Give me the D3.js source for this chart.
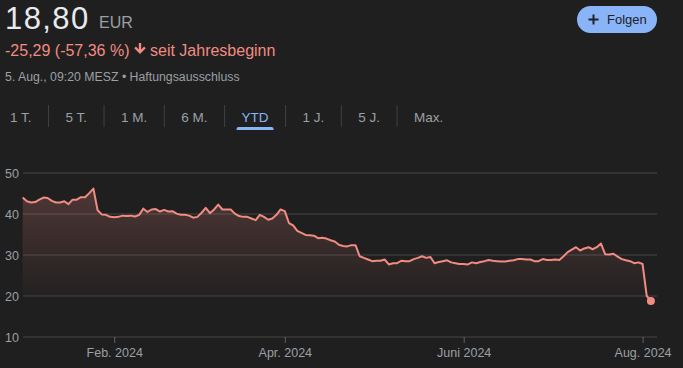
<!DOCTYPE html>
<html>
<head>
<meta charset="utf-8">
<script src="https://cdn.jsdelivr.net/npm/d3@7"></script>
<style>
  body { margin: 0; background: #1f1f1f; }
  svg { display: block; font-family: Arial, "Liberation Sans", sans-serif; }
</style>
</head>
<body>
<div id="chart"></div>
<script>
// daily closes since Jan 2 (one value per trading day)
const prices = [
  44.0, 43.1, 42.8, 42.9, 43.5, 44.0, 43.9, 43.2, 42.8, 42.8,
  43.1, 42.4, 43.5, 43.5, 44.1, 44.1, 45.1, 46.2, 40.9, 39.9,
  39.8, 39.3, 39.2, 39.3, 39.6, 39.5, 39.6, 39.4, 39.8, 41.3,
  40.5, 41.1, 41.2, 40.6, 41.0, 40.6, 40.7, 40.1, 39.8, 39.8,
  39.6, 39.1, 39.3, 40.3, 41.5, 40.2, 41.1, 42.3, 41.1, 41.1,
  41.1, 40.1, 39.5, 39.3, 39.3, 38.9, 38.5, 39.8, 39.3, 38.6,
  38.9, 39.8, 41.1, 40.7, 37.8, 37.2, 35.9, 35.4, 34.9, 34.8,
  34.7, 34.1, 34.2, 34.0, 33.6, 33.3, 32.5, 32.2, 32.1, 32.4,
  32.4, 29.7, 29.3, 28.9, 28.5, 28.6, 28.6, 28.9, 27.7, 28.0,
  28.0, 28.6, 28.5, 28.5, 29.0, 29.3, 29.7, 29.3, 29.5, 28.0,
  28.3, 28.5, 28.7, 28.2, 28.0, 27.8, 27.8, 27.7, 28.2, 28.0,
  28.3, 28.5, 28.8, 28.6, 28.5, 28.4, 28.4, 28.6, 28.7, 29.0,
  29.0, 28.9, 28.9, 28.5, 28.5, 29.0, 28.8, 28.8, 28.9, 28.8,
  29.7, 30.7, 31.3, 31.9, 31.1, 31.6, 31.9, 31.4, 31.9, 32.8,
  30.2, 30.1, 30.3, 29.6, 29.0, 28.7, 28.5, 28.0, 28.2, 27.8,
  20.0, 18.8
];

// x ticks: index of the first trading day of the month
const monthTicks = [22, 63, 106, 149];
const monthLabels = ['Feb. 2024', 'Apr. 2024', 'Juni 2024', 'Aug. 2024'];
const yTicks = [10, 20, 30, 40, 50];

const tabs = ['1 T.', '5 T.', '1 M.', '6 M.', 'YTD', '1 J.', '5 J.', 'Max.'];
const activeTab = 'YTD';

const width = 683;
const height = 368;

const svg = d3.select('#chart')
  .append('svg')
  .attr('width', width)
  .attr('height', height);

// header
svg.append('text')
  .attr('x', 5).attr('y', 28.5)
  .attr('font-size', 31)
  .attr('letter-spacing', 1.4)
  .attr('fill', '#e8eaed')
  .text('18,80');

svg.append('text')
  .attr('x', 99).attr('y', 28)
  .attr('font-size', 16)
  .attr('fill', '#9aa0a6')
  .text('EUR');

svg.append('text')
  .attr('x', 5).attr('y', 56)
  .attr('font-size', 16)
  .attr('fill', '#f28b82')
  .text('-25,29 (-57,36 %)');

// down arrow
svg.append('path')
  .attr('d', 'M138.8,43 h2.4 v6.5 l2.9,-2.9 l1.6,1.6 l-5.7,5.7 l-5.7,-5.7 l1.6,-1.6 l2.9,2.9 z')
  .attr('fill', '#f28b82');

svg.append('text')
  .attr('x', 150).attr('y', 56)
  .attr('font-size', 16)
  .attr('fill', '#f28b82')
  .text('seit Jahresbeginn');

svg.append('text')
  .attr('x', 5).attr('y', 81)
  .attr('font-size', 12.3)
  .attr('fill', '#9aa0a6')
  .text('5. Aug., 09:20 MESZ • Haftungsausschluss');

// follow button
const btn = svg.append('g');
btn.append('rect')
  .attr('x', 577).attr('y', 6)
  .attr('width', 80).attr('height', 27)
  .attr('rx', 13.5)
  .attr('fill', '#8ab4f8');
btn.append('path')
  .attr('d', 'M593.5,14.5 v10 M588.5,19.5 h10')
  .attr('stroke', '#202124')
  .attr('stroke-width', 2);
btn.append('text')
  .attr('x', 607).attr('y', 24)
  .attr('font-size', 13)
  .attr('fill', '#202124')
  .text('Folgen');

// range tabs
const tabGroup = svg.append('g');
let cursor = 10;
tabs.forEach((t, i) => {
  const active = t === activeTab;
  const label = tabGroup.append('text')
    .attr('x', cursor).attr('y', 122)
    .attr('font-size', 13.5)
    .attr('fill', active ? '#8ab4f8' : '#9aa0a6')
    .text(t);
  const w = label.node().getComputedTextLength();
  if (active) {
    tabGroup.append('path')
      .attr('d', `M${cursor - 5},130 v-1 a2,2 0 0 1 2,-2 h${w + 6} a2,2 0 0 1 2,2 v1 z`)
      .attr('fill', '#8ab4f8');
  }
  if (i < tabs.length - 1) {
    const sepX = cursor + w + 17;
    tabGroup.append('line')
      .attr('x1', sepX).attr('x2', sepX)
      .attr('y1', 105).attr('y2', 127)
      .attr('stroke', '#3c4043');
    cursor = sepX + 17;
  }
});

// chart
const plotLeft = 23;
const plotRight = 657;

const x = d3.scaleLinear()
  .domain([0, prices.length - 1])
  .range([22.7, 650.9]);

const y = d3.scaleLinear()
  .domain([10, 50])
  .range([337, 173]);

const grid = svg.append('g');
grid.selectAll('line')
  .data(yTicks)
  .enter()
  .append('line')
  .attr('x1', plotLeft).attr('x2', plotRight)
  .attr('y1', d => y(d)).attr('y2', d => y(d))
  .attr('stroke', '#3a3a3a')
  .attr('stroke-width', 1.5);

grid.selectAll('text')
  .data(yTicks)
  .enter()
  .append('text')
  .attr('x', 19)
  .attr('y', d => y(d) + 4.5)
  .attr('text-anchor', 'end')
  .attr('font-size', 12.5)
  .attr('fill', '#9aa0a6')
  .text(d => d);

// x axis ticks
const xAxis = d3.axisBottom(x)
  .tickValues(monthTicks)
  .tickSize(6)
  .tickPadding(5)
  .tickFormat((d, i) => monthLabels[i]);

const axisGroup = svg.append('g')
  .attr('transform', `translate(0, ${y(10)})`)
  .call(xAxis);
axisGroup.select('.domain').remove();
axisGroup.selectAll('line').attr('stroke', '#5f6368');
axisGroup.selectAll('text')
  .attr('font-size', 12.5)
  .attr('font-family', 'Arial, "Liberation Sans", sans-serif')
  .attr('fill', '#9aa0a6');

// area gradient
const defs = svg.append('defs');
const grad = defs.append('linearGradient')
  .attr('id', 'fade')
  .attr('gradientUnits', 'userSpaceOnUse')
  .attr('x1', 0).attr('x2', 0)
  .attr('y1', y(46)).attr('y2', y(20));
grad.append('stop').attr('offset', 0).attr('stop-color', '#f28b82').attr('stop-opacity', 0.22);
grad.append('stop').attr('offset', 1).attr('stop-color', '#f28b82').attr('stop-opacity', 0.02);

const area = d3.area()
  .x((d, i) => x(i))
  .y0(y(20))
  .y1(d => Math.min(y(d), y(20)));

svg.append('path')
  .attr('d', area(prices))
  .attr('fill', 'url(#fade)');

const line = d3.line()
  .x((d, i) => x(i))
  .y(d => y(d));

svg.append('path')
  .attr('d', line(prices))
  .attr('fill', 'none')
  .attr('stroke', '#f28b82')
  .attr('stroke-width', 2)
  .attr('stroke-linejoin', 'round');

const last = prices.length - 1;
svg.append('circle')
  .attr('cx', x(last))
  .attr('cy', y(prices[last]))
  .attr('r', 4)
  .attr('fill', '#f28b82');
</script>
</body>
</html>
